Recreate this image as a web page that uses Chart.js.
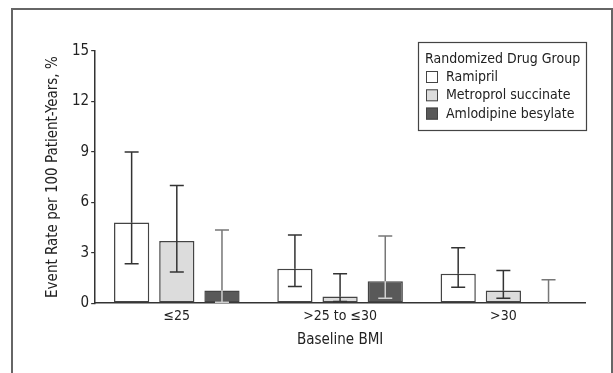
<!DOCTYPE html>
<html>
<head>
<meta charset="utf-8">
<script src="https://cdn.jsdelivr.net/npm/chart.js@4.4.1/dist/chart.umd.min.js"></script>
<style>
  html, body { margin: 0; padding: 0; background: #fff; }
  #wrap { position: relative; width: 613px; height: 373px; overflow: hidden; }
  #frame { position: absolute; left: 11px; top: 8px; width: 598px; height: 400px; border: 2px solid #666; }
  #chart { position: absolute; left: 0; top: 0; }
</style>
</head>
<body>
<div id="wrap">
  <div id="frame"></div>
  <canvas id="chart" width="613" height="373"></canvas>
</div>
<script>
"use strict";

var FONT = '"Liberation Sans Narrow", "Arial Narrow", "DejaVu Sans Condensed", sans-serif';

var categories = ["\u226425", ">25 to \u226430", ">30"];
var yTicks = [0, 3, 6, 9, 12, 15];

var ramipril = [4.8, 2.05, 1.75];
var ramiprilLow = [2.35, 1.0, 0.95];
var ramiprilHigh = [9.0, 4.05, 3.3];

var metoprolol = [3.7, 0.4, 0.75];
var metoprololLow = [1.85, 0.1, 0.3];
var metoprololHigh = [7.0, 1.75, 1.95];

var amlodipine = [0.75, 1.3, 0];
var amlodipineLow = [0.05, 0.3, 0];
var amlodipineHigh = [4.35, 4.0, 1.4];

var seriesNames = ["Ramipril", "Metroprol succinate", "Amlodipine besylate"];

// error bars drawn over the bars
var errorBars = {
    id: "errorBars",
    afterDatasetsDraw: function(chart) {
        var ctx = chart.ctx;
        var yScale = chart.scales.y;
        chart.data.datasets.forEach(function(ds, di) {
            var meta = chart.getDatasetMeta(di);
            meta.data.forEach(function(bar, i) {
                var x = bar.x;
                var yTop = yScale.getPixelForValue(ds.high[i]);
                var yLow = yScale.getPixelForValue(ds.low[i]);
                var yBar = yScale.getPixelForValue(ds.data[i]);
                var half = 7;
                ctx.save();
                ctx.lineWidth = 1.5;
                // part above the bar
                ctx.strokeStyle = ds.errColor;
                ctx.beginPath();
                ctx.moveTo(x, yTop);
                ctx.lineTo(x, Math.min(yBar, yLow));
                ctx.moveTo(x - half, yTop);
                ctx.lineTo(x + half, yTop);
                ctx.stroke();
                // part inside the bar
                ctx.strokeStyle = ds.errInner;
                ctx.beginPath();
                if (yLow > yBar) {
                    ctx.moveTo(x, yBar);
                    ctx.lineTo(x, yLow);
                }
                if (ds.low[i] > 0) {
                    ctx.moveTo(x - half, yLow);
                    ctx.lineTo(x + half, yLow);
                }
                ctx.stroke();
                ctx.restore();
            });
        });
    }
};

// boxed legend inside the plot, top right
var boxLegend = {
    id: "boxLegend",
    afterDraw: function(chart) {
        var ctx = chart.ctx;
        var x0 = 418, y0 = 42, w = 168, h = 88;
        ctx.save();
        ctx.fillStyle = "#fff";
        ctx.fillRect(x0, y0, w, h);
        ctx.strokeStyle = "#444";
        ctx.lineWidth = 1.2;
        ctx.strokeRect(x0 + 0.5, y0 + 0.5, w, h);
        ctx.font = "14px " + FONT;
        ctx.fillStyle = "#222";
        ctx.textBaseline = "middle";
        ctx.fillText("Randomized Drug Group", 425, 59);
        chart.data.datasets.forEach(function(ds, i) {
            var cy = 77 + i * 18.3;
            ctx.fillStyle = ds.backgroundColor;
            ctx.fillRect(426, cy - 6, 12, 12);
            ctx.strokeStyle = "#444";
            ctx.lineWidth = 1;
            ctx.strokeRect(426.5, cy - 5.5, 11, 11);
            ctx.fillStyle = "#222";
            ctx.fillText(ds.label, 446, cy + 0.5);
        });
        ctx.restore();
    }
};

var makeSet = function(label, values, low, high, fill, errColor, errInner) {
    return {
        label: label,
        data: values,
        low: low,
        high: high,
        errColor: errColor,
        errInner: errInner,
        backgroundColor: fill,
        borderColor: "#444",
        borderWidth: function(c) { return c.raw === 0 ? 0 : 1.5; },
        borderSkipped: false
    };
};

var datasets = [
    makeSet(seriesNames[0], ramipril, ramiprilLow, ramiprilHigh, "#ffffff", "#333", "#333"),
    makeSet(seriesNames[1], metoprolol, metoprololLow, metoprololHigh, "#dcdcdc", "#333", "#333"),
    makeSet(seriesNames[2], amlodipine, amlodipineLow, amlodipineHigh, "#595959", "#777", "#d0d0d0")
];

new Chart(document.getElementById("chart"), {
    type: "bar",
    data: {
        labels: categories,
        datasets: datasets
    },
    options: {
        responsive: false,
        animation: false,
        devicePixelRatio: 1,
        layout: { padding: { left: 40, top: 51, right: 28, bottom: 20 } },
        datasets: {
            bar: { categoryPercentage: 0.83, barPercentage: 0.78 }
        },
        plugins: {
            legend: { display: false },
            tooltip: { enabled: false }
        },
        scales: {
            x: {
                grid: { display: false, drawTicks: false },
                border: { display: true, color: "#333", width: 1.5 },
                ticks: { color: "#222", font: { family: FONT, size: 14 }, padding: 5 },
                title: { display: true, text: "Baseline BMI", color: "#222", font: { family: FONT, size: 15 }, padding: { top: 1 } }
            },
            y: {
                min: 0,
                max: 15,
                afterBuildTicks: function(axis) {
                    axis.ticks = yTicks.map(function(v) { return { value: v }; });
                },
                grid: { drawOnChartArea: false, drawTicks: true, tickLength: 4, color: "#333", lineWidth: 1.2 },
                border: { display: true, color: "#333", width: 1.5 },
                ticks: { color: "#222", font: { family: FONT, size: 15 }, padding: 2 },
                title: { display: true, text: "Event Rate per 100 Patient-Years, %", color: "#222", font: { family: FONT, size: 15 }, padding: { bottom: 8 } }
            }
        }
    },
    plugins: [errorBars, boxLegend]
});
</script>
</body>
</html>
